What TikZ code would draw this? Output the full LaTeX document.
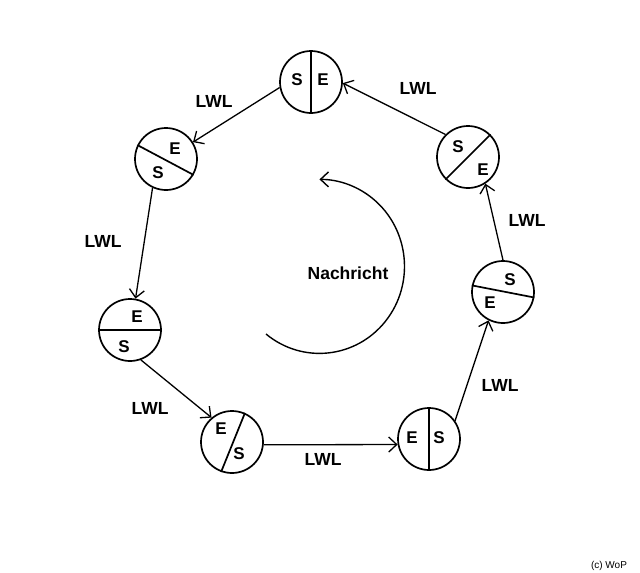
\documentclass[tikz,border=0pt]{standalone}
\usepackage{fontspec}
\setmainfont{Liberation Sans}
\usetikzlibrary{arrows.meta}
\begin{document}
\begin{tikzpicture}[x=1pt,y=-1pt,
  station/.style={circle,draw,line width=1.7pt,minimum size=62pt,inner sep=0pt},
  divider/.style={line width=1.7pt},
  letter/.style={font=\fontsize{17}{17}\selectfont\bfseries,inner sep=0pt},
  lbl/.style={font=\fontsize{17.5}{17.5}\selectfont\bfseries,inner sep=0pt},
  link/.style={line width=1.3pt,-{Straight Barb[length=8pt,width=15pt,line width=1.3pt]}}]
\useasboundingbox (0,0) rectangle (640,573);
% stations
\node[station] (n1) at (311,82) {};
\node[station] (n2) at (166,159) {};
\node[station] (n3) at (130,330) {};
\node[station] (n4) at (232,442) {};
\node[station] (n5) at (429,439) {};
\node[station] (n6) at (503,292) {};
\node[station] (n7) at (468,157) {};
% dividers
\draw[divider] (n1.north) -- (n1.south);
\draw[divider] (n2.154) -- (n2.330);
\draw[divider] (n3.west) -- (n3.east);
\draw[divider] (n4.66) -- (n4.250);
\draw[divider] (n5.north) -- (n5.south);
\draw[divider] (n6.168) -- (n6.350);
\draw[divider] (n7.45) -- (n7.225);
% letters
\node[letter] (s1) at (297,80) {S};
\node[letter] (e1) at (323,80) {E};
\node[letter] (e2) at (175,149) {E};
\node[letter] (s2) at (158,173) {S};
\node[letter] (e3) at (137,317) {E};
\node[letter] (s3) at (124,347) {S};
\node[letter] (e4) at (221,429) {E};
\node[letter] (s4) at (239,454) {S};
\node[letter] (e5) at (412,438) {E};
\node[letter] (s5) at (439,438) {S};
\node[letter] (s6) at (510,280) {S};
\node[letter] (e6) at (490,303) {E};
\node[letter] (s7) at (458,147) {S};
\node[letter] (e7) at (483,170) {E};
% links
\draw[link] (n7.135) -- (n1.358);
\draw[link] (n1.190) -- (n2.32);
\draw[link] (n2.245) -- (n3.80);
\draw[link] (n3.290) -- (n4.130);
\draw[link] (n4.355) -- (n5.190);
\draw[link] (n5.35) -- (n6.243);
\draw[link] (n6.north) -- (n7.303);
% link labels
\node[lbl] (l1) at (418,88) {LWL};
\node[lbl] (l2) at (214,101) {LWL};
\node[lbl] (l3) at (103,241) {LWL};
\node[lbl] (l4) at (150,408) {LWL};
\node[lbl] (l5) at (323,459) {LWL};
\node[lbl] (l6) at (500,385) {LWL};
\node[lbl] (l7) at (527,220) {LWL};
% message arc
\coordinate (arcstart) at (266,334);
\draw[line width=1.4pt,-{Straight Barb[length=8pt,width=15pt,line width=1.4pt]}]
  (arcstart) arc[start angle=129,end angle=-90,x radius=85,y radius=87];
\node[lbl] (msg) at (348,273) {Nachricht};
\node[font=\fontsize{10}{10}\selectfont,inner sep=0pt] (copy) at (609,566) {(c) WoP};
\end{tikzpicture}
\end{document}
